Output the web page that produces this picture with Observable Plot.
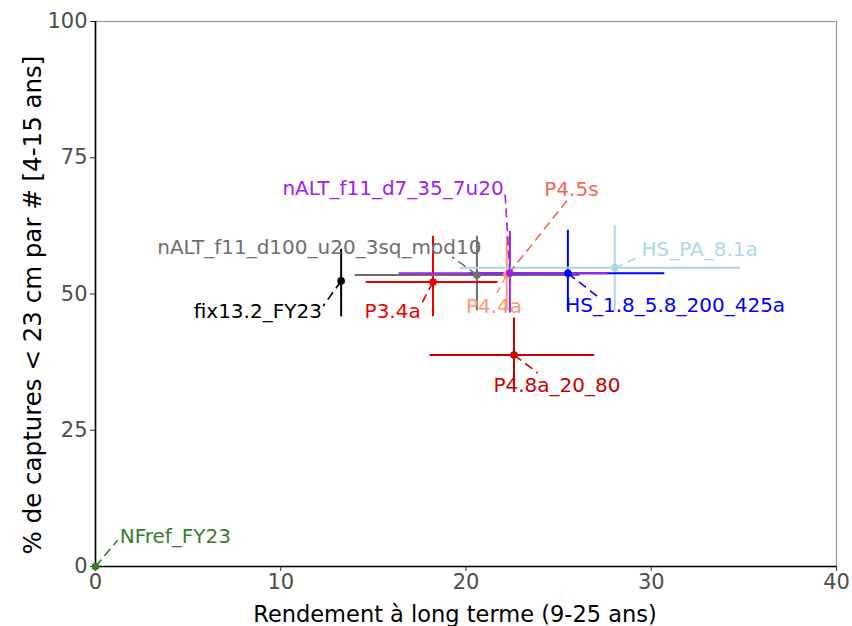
<!DOCTYPE html>
<html>
<head>
<meta charset="utf-8">
<script src="https://cdn.jsdelivr.net/npm/d3@7"></script>
<script src="https://cdn.jsdelivr.net/npm/@observablehq/plot@0.6"></script>
<style>
  html, body { margin: 0; padding: 0; background: #fff; }
  #chart svg { display: block; }
</style>
</head>
<body>
<div id="chart"></div>
<script>
// Scenario names
const names = ["fix13.2_FY23", "nALT_f11_d100_u20_3sq_mod10", "P3.4a", "P4.5s", "P4.4a",
  "HS_1.8_5.8_200_425a", "HS_PA_8.1a", "nALT_f11_d7_35_7u20", "P4.8a_20_80", "NFref_FY23"];
const colors = ["#000000", "#6e6e6e", "#ee0000", "#f8635a", "#fa9a7a",
  "#0000ff", "#add8e6", "#a020f0", "#c80000", "#3a7a2c"];
// Central values
const yieldMid  = [13.26, 20.59, 18.22, 22.32, 22.2, 25.50, 28.03, 22.37, 22.59, 0];
const catchMid  = [52.4, 53.5, 52.2, 53.8, 53.5, 53.8, 54.8, 53.8, 38.8, 0];
// Intervals
const yieldLo   = [13.2, 14.02, 14.61, 22.32, 21.9, 20.2, 19.68, 16.39, 18.06, 0];
const yieldHi   = [13.3, 26.15, 21.73, 22.32, 22.5, 30.73, 34.82, 27.65, 26.95, 0];
const catchLo   = [45.8, 46.9, 45.8, 53.8, 46.9, 46.9, 46.9, 46.5, 33.5, 0];
const catchHi   = [58.2, 60.6, 60.6, 53.8, 60.6, 61.7, 62.6, 61.5, 45.6, 0];
// Label positions (data units)
const labelX    = [8.76, 12.08, 16.04, 25.69, 21.51, 31.29, 32.61, 16.06, 24.91, 4.31];
const labelY    = [46.7, 58.6, 46.7, 69.2, 47.6, 47.8, 58.2, 69.4, 33.2, 5.5];
// Leader line ends (data units)
const leadX     = [12.29, 19.25, 17.57, 25.61, 21.67, 27.12, 29.33, 22.10, 23.88, 1.19];
const leadY     = [47.8, 56.8, 48.0, 67.8, 50.2, 49.5, 56.8, 68.9, 35.5, 4.8];
// Ticks
const xTicks = [0, 10, 20, 30, 40];
const yTicks = [0, 25, 50, 75, 100];
const xTitle = "Rendement à long terme (9-25 ans)";
const yTitle = "% de captures < 23 cm par # [4-15 ans]";

const rows = names.map((n, i) => ({
  name: n, color: colors[i], x: yieldMid[i], y: catchMid[i],
  xlo: yieldLo[i], xhi: yieldHi[i], ylo: catchLo[i], yhi: catchHi[i],
  lx: labelX[i], ly: labelY[i], ex: leadX[i], ey: leadY[i]
}));
const hbars = rows.filter(d => d.xhi > d.xlo);
const vbars = rows.filter(d => d.yhi > d.ylo);
const order = ["P4.5s", "P4.4a", "nALT_f11_d100_u20_3sq_mod10", "fix13.2_FY23", "P3.4a", "HS_1.8_5.8_200_425a", "HS_PA_8.1a", "nALT_f11_d7_35_7u20", "P4.8a_20_80", "NFref_FY23"];
const sortBy = arr => arr.slice().sort((a, b) => order.indexOf(a.name) - order.indexOf(b.name));

const FONT = "DejaVu Sans, Liberation Sans, Arial, sans-serif";

const chart = Plot.plot({
  width: 852,
  height: 626,
  marginLeft: 95,
  marginRight: 16,
  marginTop: 21,
  marginBottom: 60,
  style: { fontFamily: FONT, background: "#fff" },
  x: { domain: [0, 40], ticks: xTicks },
  y: { domain: [0, 100], ticks: yTicks },
  color: { type: "identity" },
  marks: [
    Plot.frame({ stroke: "#999999", strokeWidth: 1.2 }),
    Plot.axisX(xTicks, { tickSize: 5, tickPadding: 3, fontSize: 21, fill: "#4d4d4d", stroke: "#333", label: null }),
    Plot.axisY(yTicks, { tickSize: 5, tickPadding: 3, fontSize: 21, fill: "#4d4d4d", stroke: "#333", label: null }),
    Plot.ruleX([0], { stroke: "#000", strokeWidth: 1.6 }),
    Plot.ruleY([0], { stroke: "#000", strokeWidth: 1.6 }),
    Plot.ruleX(sortBy(vbars), { x: "x", y1: "ylo", y2: "yhi", stroke: "color", strokeWidth: 2 }),
    Plot.ruleY(sortBy(hbars), { y: "y", x1: "xlo", x2: "xhi", stroke: "color", strokeWidth: 2 }),
    Plot.link(rows, { x1: "x", y1: "y", x2: "ex", y2: "ey", stroke: "color", strokeWidth: 1.6, strokeDasharray: "9,5" }),
    Plot.dot(sortBy(rows), { x: "x", y: "y", fill: "color", r: 3.8 }),
    Plot.text(rows, { x: "lx", y: "ly", text: "name", fill: "color", fontSize: 20, textAnchor: "middle" }),
    Plot.text([xTitle], { frameAnchor: "bottom", dx: -11, dy: 55, fontSize: 22.5, fill: "#000", textAnchor: "middle" }),
    Plot.text([yTitle], { frameAnchor: "left", dx: -62, dy: 11, rotate: -90, fontSize: 24.5, fill: "#000", textAnchor: "middle" })
  ]
});
document.getElementById("chart").appendChild(chart);
</script>
</body>
</html>
